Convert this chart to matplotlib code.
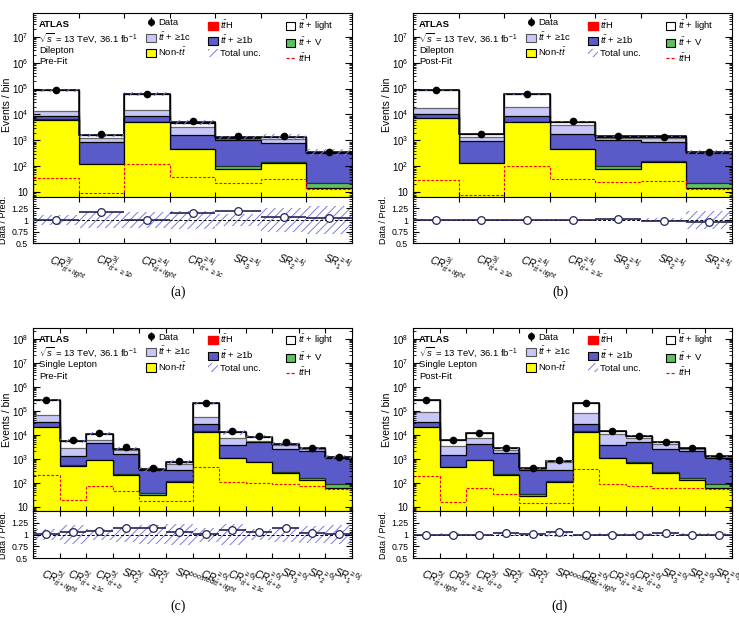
import numpy as np
import matplotlib
matplotlib.use('Agg')
import matplotlib.pyplot as plt
from matplotlib.patches import Patch
from matplotlib.lines import Line2D
from matplotlib.legend import Legend
from matplotlib.ticker import LogLocator, FixedLocator, NullFormatter, FuncFormatter

plt.rcParams['font.family'] = ['Liberation Sans', 'DejaVu Sans']
plt.rcParams['mathtext.fontset'] = 'custom'
plt.rcParams['mathtext.rm'] = 'Liberation Sans'
plt.rcParams['mathtext.it'] = 'Liberation Sans:italic'
plt.rcParams['mathtext.bf'] = 'Liberation Sans:bold'
plt.rcParams['hatch.linewidth'] = 0.7

# ---------------- dilepton regions ----------------
dil_labels = [r'CR$^{3j}_{t\bar{t}+light}$', r'CR$^{3j}_{t\bar{t}+\geq1b}$',
              r'CR$^{\geq4j}_{t\bar{t}+light}$', r'CR$^{\geq4j}_{t\bar{t}+\geq1c}$',
              r'SR$^{\geq4j}_{3}$', r'SR$^{\geq4j}_{2}$', r'SR$^{\geq4j}_{1}$']

# pre-fit (a)
dil_pre_nontt = [6300, 120, 5200, 450, 80, 140, 15]
dil_pre_ttv = [150, 5, 100, 15, 25, 10, 7]
dil_pre_ttb = [2550, 725, 3200, 1085, 895, 630, 298]
dil_pre_ttc = [5000, 350, 6500, 1650, 150, 370, 8]
dil_pre_ttl = [71000, 350, 48000, 1700, 130, 180, 5]
dil_pre_tth = [35, 9, 125, 39, 23, 32, 13]
dil_pre_data = [85000, 1820, 62500, 5650, 1540, 1445, 360]
dil_pre_unc = [0.10, 0.17, 0.18, 0.20, 0.13, 0.25, 0.30]

# post-fit (b)
dil_post_nontt = [7000, 130, 5200, 470, 80, 150, 15]
dil_post_ttv = [150, 5, 100, 15, 25, 10, 8]
dil_post_ttb = [2850, 845, 3700, 1265, 895, 690, 317]
dil_post_ttc = [8000, 420, 11000, 2250, 250, 400, 6]
dil_post_ttl = [67000, 350, 40000, 1300, 150, 150, 4]
dil_post_tth = [29, 8, 105, 31, 25, 27, 13]
dil_post_data = [85000, 1740, 60100, 5380, 1470, 1400, 345]
dil_post_unc = [0.02, 0.03, 0.02, 0.03, 0.03, 0.04, 0.20]

# ---------------- single lepton regions ----------------
sl_labels = [r'CR$^{5j}_{t\bar{t}+light}$', r'CR$^{5j}_{t\bar{t}+\geq1c}$', r'CR$^{5j}_{t\bar{t}+b}$',
             r'SR$^{5j}_{2}$', r'SR$^{5j}_{1}$', r'SR$^{boosted}$',
             r'CR$^{\geq6j}_{t\bar{t}+light}$', r'CR$^{\geq6j}_{t\bar{t}+\geq1c}$', r'CR$^{\geq6j}_{t\bar{t}+b}$',
             r'SR$^{\geq6j}_{3}$', r'SR$^{\geq6j}_{2}$', r'SR$^{\geq6j}_{1}$']

# pre-fit (c)
sl_pre_nontt = [21000, 520, 880, 215, 30, 110, 13500, 1070, 720, 260, 135, 59]
sl_pre_ttv = [300, 10, 30, 10, 6, 5, 300, 30, 30, 30, 25, 26]
sl_pre_ttb = [13700, 770, 3590, 1275, 294, 235, 14200, 2600, 4050, 2210, 1940, 965]
sl_pre_ttc = [31000, 1400, 1800, 800, 12, 270, 25000, 3600, 800, 1200, 350, 80]
sl_pre_ttl = [214000, 2800, 4700, 300, 8, 120, 147000, 5200, 2700, 500, 150, 40]
sl_pre_tth = [220, 20, 72, 44, 17, 18, 450, 107, 93, 86, 74, 55]
sl_pre_data = [283000, 5850, 11850, 3040, 422, 796, 202500, 13740, 8900, 4890, 2780, 1237]
sl_pre_unc = [0.12, 0.20, 0.12, 0.15, 0.20, 0.22, 0.15, 0.22, 0.12, 0.15, 0.18, 0.20]

# post-fit (d)
sl_post_nontt = [21000, 460, 870, 215, 28, 110, 13500, 1030, 680, 250, 130, 58]
sl_post_ttv = [300, 10, 30, 10, 5, 5, 300, 30, 30, 40, 25, 27]
sl_post_ttb = [13700, 910, 3400, 1475, 317, 235, 14200, 2840, 4290, 2310, 1945, 1015]
sl_post_ttc = [50000, 2020, 2700, 700, 20, 350, 49000, 6800, 2000, 1700, 450, 70]
sl_post_ttl = [195000, 2500, 4700, 300, 10, 90, 133000, 3300, 2000, 500, 150, 30]
sl_post_tth = [190, 16, 58, 35, 14, 14, 360, 86, 74, 63, 58, 55]
sl_post_data = [280500, 5860, 11750, 2815, 398, 845, 210300, 14100, 8980, 5010, 2760, 1255]
sl_post_unc = [0.02, 0.03, 0.02, 0.03, 0.04, 0.06, 0.02, 0.03, 0.03, 0.03, 0.03, 0.04]

# colours
c_nontt = '#ffff00'
c_ttv = '#5fc05f'
c_ttb = '#5a5ac8'
c_ttc = '#c8c8f8'
c_ttl = '#ffffff'
c_tth = '#ff0000'
c_unc = '#7b7be0'
c_ratio = '#23235a'


def log_label(v, pos):
    p = int(round(np.log10(v)))
    if p == 0:
        return '1'
    if p == 1:
        return '10'
    return r'$10^{%d}$' % p


def draw_panel(fig, x0, y0, labels, nontt, ttv, ttb, ttc, ttl, tth, data, unc,
               ylim, channel, fit, tag, tag_xy):
    n = len(labels)
    edges = np.arange(n + 1)
    centers = edges[:-1] + 0.5
    w, hm, hr = 0.4317, 0.297, 0.076
    ax = fig.add_axes([x0, y0 + hr, w, hm])
    rax = fig.add_axes([x0, y0, w, hr])

    nontt, ttv, ttb = np.array(nontt, float), np.array(ttv, float), np.array(ttb, float)
    ttc, ttl, tth = np.array(ttc, float), np.array(ttl, float), np.array(tth, float)
    data, unc = np.array(data, float), np.array(unc, float)

    # cumulative stack, drawn from the top down
    layers = [nontt, ttv, ttb, ttc, ttl, tth]
    cum = np.cumsum(layers, axis=0)
    total = cum[-1]
    styles = [(c_nontt, 'black'), (c_ttv, '#1a3a1a'), (c_ttb, 'black'),
              (c_ttc, '#666666'), (c_ttl, 'black'), (c_tth, 'black')]
    for i in range(len(layers) - 1, -1, -1):
        fc, ec = styles[i]
        ax.stairs(cum[i], edges, baseline=1e-3, fill=True, facecolor=fc,
                  edgecolor=ec, linewidth=0.9)
    ax.stairs(total, edges, baseline=None, color='black', linewidth=1.1)

    # uncertainty band
    ax.stairs(total * (1 + unc), edges, baseline=total * (1 - unc), fill=True,
              facecolor='none', edgecolor=c_unc, hatch='////', linewidth=0)

    # ttH unstacked
    ax.stairs(tth, edges, baseline=None, color='red', linestyle=(0, (2.5, 1.5)), linewidth=0.8)

    ax.errorbar(centers, data, yerr=np.sqrt(data), fmt='o', color='black',
                ms=4.5, lw=1, capsize=0, zorder=5)

    ax.set_yscale('log')
    ax.set_xlim(0, n)
    ax.set_ylim(*ylim)
    ax.set_xticks(edges)
    ax.tick_params(axis='x', which='both', labelbottom=False, direction='in',
                   top=True, length=3.5)
    ax.yaxis.set_major_locator(LogLocator(base=10, numticks=20))
    ax.yaxis.set_minor_locator(LogLocator(base=10, subs=np.arange(2, 10), numticks=20))
    ax.yaxis.set_major_formatter(FuncFormatter(log_label))
    ax.yaxis.set_minor_formatter(NullFormatter())
    ax.tick_params(axis='y', which='both', direction='in', right=True, labelsize=7)
    ax.tick_params(axis='y', which='major', length=5)
    ax.tick_params(axis='y', which='minor', length=2.5)
    ax.set_ylabel('Events / bin', fontsize=7.5)
    ax.yaxis.set_label_coords(-0.066, 0.5)

    # annotations
    fs = 6.8
    ax.text(0.019, 0.935, 'ATLAS', transform=ax.transAxes, fontsize=fs,
            fontweight='bold', va='center')
    ax.text(0.019, 0.864, r'$\sqrt{s}$ = 13 TeV, 36.1 fb$^{-1}$', transform=ax.transAxes,
            fontsize=fs, va='center')
    ax.text(0.019, 0.798, channel, transform=ax.transAxes, fontsize=fs, va='center')
    ax.text(0.019, 0.733, fit, transform=ax.transAxes, fontsize=fs, va='center')

    # legend, one column at a time
    h_data = ax.errorbar([], [], yerr=[], fmt='o', color='black', ms=4, lw=1)
    h_tth = Patch(facecolor=c_tth, edgecolor=c_tth)
    h_ttl = Patch(facecolor=c_ttl, edgecolor='black', linewidth=0.8)
    h_ttc = Patch(facecolor=c_ttc, edgecolor='#555555', linewidth=0.8)
    h_ttb = Patch(facecolor=c_ttb, edgecolor='black', linewidth=0.8)
    h_ttv = Patch(facecolor=c_ttv, edgecolor='black', linewidth=0.8)
    h_nontt = Patch(facecolor=c_nontt, edgecolor='black', linewidth=0.8)
    h_unc = Patch(facecolor='none', edgecolor=c_unc, hatch='////', linewidth=0)
    h_tthl = Line2D([], [], color='red', linestyle=(0, (2.5, 1.5)), linewidth=0.9)
    columns = [
        (0.355, [h_data, h_ttc, h_nontt], ['Data', r'$t\bar{t}$ + ≥1c', r'Non-$t\bar{t}$']),
        (0.550, [h_tth, h_ttb, h_unc], [r'$t\bar{t}$H', r'$t\bar{t}$ + ≥1b', 'Total unc.']),
        (0.793, [h_ttl, h_ttv, h_tthl], [r'$t\bar{t}$ + light', r'$t\bar{t}$ + V', r'$t\bar{t}$H']),
    ]
    for xpos, hs, ls in columns:
        leg = Legend(ax, hs, ls, loc='upper left', bbox_to_anchor=(xpos, 0.972),
                     frameon=False, fontsize=fs, borderpad=0, borderaxespad=0,
                     handlelength=1.0, handleheight=0.95, handletextpad=0.25,
                     labelspacing=0.28)
        ax.add_artist(leg)

    # ratio panel
    ratio = data / total
    rerr = np.sqrt(data) / total
    rax.stairs(1 + unc, edges, baseline=1 - unc, fill=True, facecolor='none',
               edgecolor=c_unc, hatch='////', linewidth=0)
    rax.axhline(1, color='black', linestyle=(0, (3, 2)), linewidth=0.7)
    rax.errorbar(centers, ratio, xerr=0.5, yerr=rerr, fmt='o', mfc='white',
                 mec=c_ratio, color=c_ratio, ms=5.5, mew=0.9, lw=1.2, capsize=0, zorder=5)
    rax.set_xlim(0, n)
    rax.set_ylim(0.5, 1.5)
    rax.set_xticks(edges)
    rax.set_xticklabels([])
    rax.tick_params(axis='x', which='both', direction='in', top=True, length=3.5)
    rax.yaxis.set_major_locator(FixedLocator([0.5, 0.75, 1.0, 1.25]))
    rax.set_yticklabels(['0.5', '0.75', '1', '1.25'])
    rax.yaxis.set_minor_locator(FixedLocator(np.arange(0.55, 1.5, 0.05)))
    rax.tick_params(axis='y', which='both', direction='in', right=True, labelsize=6.3)
    rax.tick_params(axis='y', which='major', length=4)
    rax.tick_params(axis='y', which='minor', length=2)
    rax.set_ylabel('Data / Pred.', fontsize=6.5)
    rax.yaxis.set_label_coords(-0.08, 0.5)

    for xc, lab in zip(centers, labels):
        rax.text(xc - 0.05, -0.12, lab, transform=rax.get_xaxis_transform(), rotation=-20,
                 rotation_mode='anchor', ha='left', va='top', fontsize=7.2,
                 fontstyle='italic')

    fig.text(tag_xy[0], tag_xy[1], tag, family='Liberation Serif', fontsize=10,
             ha='center', va='center')


fig = plt.figure(figsize=(7.39, 6.18), dpi=100)

draw_panel(fig, 0.0447, 0.606, dil_labels, dil_pre_nontt, dil_pre_ttv, dil_pre_ttb,
           dil_pre_ttc, dil_pre_ttl, dil_pre_tth, dil_pre_data, dil_pre_unc,
           (6.8, 8.3e7), 'Dilepton', 'Pre-Fit', '(a)', (178 / 739, 1 - 292 / 618))
draw_panel(fig, 0.5589, 0.606, dil_labels, dil_post_nontt, dil_post_ttv, dil_post_ttb,
           dil_post_ttc, dil_post_ttl, dil_post_tth, dil_post_data, dil_post_unc,
           (6.8, 8.3e7), 'Dilepton', 'Post-Fit', '(b)', (560 / 739, 1 - 292 / 618))
draw_panel(fig, 0.0447, 0.097, sl_labels, sl_pre_nontt, sl_pre_ttv, sl_pre_ttb,
           sl_pre_ttc, sl_pre_ttl, sl_pre_tth, sl_pre_data, sl_pre_unc,
           (6.6, 2.9e8), 'Single Lepton', 'Pre-Fit', '(c)', (178 / 739, 1 - 606 / 618))
draw_panel(fig, 0.5589, 0.097, sl_labels, sl_post_nontt, sl_post_ttv, sl_post_ttb,
           sl_post_ttc, sl_post_ttl, sl_post_tth, sl_post_data, sl_post_unc,
           (6.6, 2.9e8), 'Single Lepton', 'Post-Fit', '(d)', (560 / 739, 1 - 606 / 618))

fig.savefig('out.png', dpi=100)
